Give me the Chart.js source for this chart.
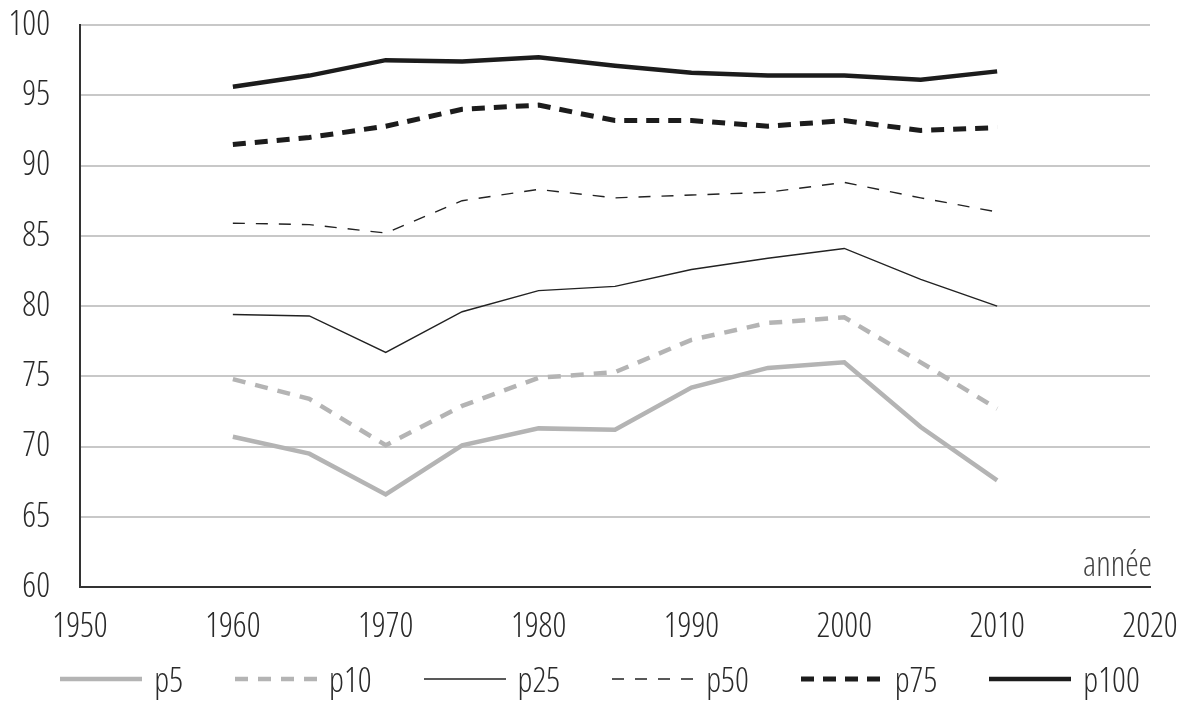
<!DOCTYPE html>
<html>
<head>
<meta charset="utf-8">
<script src="https://cdn.jsdelivr.net/npm/chart.js@4.4.1/dist/chart.umd.min.js"></script>
<style>
    html, body { margin: 0; padding: 0; background: #fff; }
    #wrap { position: relative; width: 1200px; height: 704px; }
    #chartBox { position: absolute; left: 0; top: 0; width: 1200px; height: 668px; }
    #legend {
        position: absolute; left: 0; top: 657px; width: 1200px; height: 44px;
        display: flex; justify-content: center; align-items: center; gap: 52px;
        font-family: "Open Sans", sans-serif; font-weight: 300; font-stretch: condensed;
        font-size: 34px; color: #2a2a2a;
    }
    .item { display: flex; align-items: center; }
    .item svg { margin-right: 12px; }
</style>
</head>
<body>
<div id="wrap">
    <div id="chartBox"><canvas id="percentileChart"></canvas></div>
    <div id="legend"></div>
</div>
<script>
// Years and percentile series
const years = [1960, 1965, 1970, 1975, 1980, 1985, 1990, 1995, 2000, 2005, 2010];
const p5   = [70.7, 69.5, 66.6, 70.1, 71.3, 71.2, 74.2, 75.6, 76.0, 71.4, 67.6];
const p10  = [74.8, 73.4, 70.1, 72.9, 74.9, 75.3, 77.6, 78.8, 79.2, 76.0, 72.7];
const p25  = [79.4, 79.3, 76.7, 79.6, 81.1, 81.4, 82.6, 83.4, 84.1, 81.9, 80.0];
const p50  = [85.9, 85.8, 85.2, 87.5, 88.3, 87.7, 87.9, 88.1, 88.8, 87.7, 86.7];
const p75  = [91.5, 92.0, 92.8, 94.0, 94.3, 93.2, 93.2, 92.8, 93.2, 92.5, 92.7];
const p100 = [95.6, 96.4, 97.5, 97.4, 97.7, 97.1, 96.6, 96.4, 96.4, 96.1, 96.7];

const seriesNames = ["p5", "p10", "p25", "p50", "p75", "p100"];
const seriesValues = [p5, p10, p25, p50, p75, p100];

const FONT = "'Open Sans', sans-serif";
const WEIGHT = "300 condensed"; // light + condensed face
const GRAY = "#b4b4b4";
const DARK = "#1c1c1c";

// line styles per series
const styles = {
    p5:   { color: GRAY, width: 4.5, dash: [] },
    p10:  { color: GRAY, width: 4.5, dash: [13, 10] },
    p25:  { color: "#222", width: 1.4, dash: [] },
    p50:  { color: "#222", width: 1.4, dash: [12, 11] },
    p75:  { color: DARK, width: 5, dash: [13, 9] },
    p100: { color: DARK, width: 4.5, dash: [] }
};

const datasets = seriesNames.map((name, i) => ({
    label: name,
    data: years.map((yr, j) => ({ x: yr, y: seriesValues[i][j] })),
    borderColor: styles[name].color,
    borderWidth: styles[name].width,
    borderDash: styles[name].dash,
    pointRadius: 0,
    tension: 0,
    fill: false
}));

// axis caption "année" above the x axis, right side
const axisCaption = {
    id: "axisCaption",
    afterDraw(chart) {
        const { ctx, chartArea } = chart;
        ctx.save();
        ctx.font = WEIGHT + " 34px " + FONT;
        ctx.fillStyle = "#444";
        ctx.textAlign = "right";
        ctx.textBaseline = "alphabetic";
        ctx.fillText("année", chartArea.right + 2, chartArea.bottom - 11);
        ctx.restore();
    }
};

const ctx = document.getElementById("percentileChart").getContext("2d");
const chart = new Chart(ctx, {
    type: "line",
    data: { datasets: datasets },
    options: {
        responsive: true,
        maintainAspectRatio: false,
        animation: false,
        layout: { padding: { top: 25, right: 50, bottom: 0, left: 0 } },
        plugins: {
            legend: { display: false },
            tooltip: { enabled: false }
        },
        scales: {
            x: {
                type: "linear",
                min: 1950,
                max: 2020,
                afterFit: scale => { scale.paddingLeft = 0; scale.paddingRight = 0; },
                ticks: {
                    stepSize: 10,
                    padding: 20,
                    color: "#2a2a2a",
                    font: { family: FONT, size: 34, weight: WEIGHT },
                    callback: v => String(v)
                },
                grid: { display: false, drawTicks: false },
                border: { display: true, color: "#333", width: 2 }
            },
            y: {
                min: 60,
                max: 100,
                afterFit: scale => {
                    scale.width = 80;
                    scale.paddingTop = 0;
                    scale.paddingBottom = 0;
                },
                ticks: {
                    stepSize: 5,
                    padding: 30,
                    color: "#2a2a2a",
                    font: { family: FONT, size: 34, weight: WEIGHT }
                },
                grid: { color: "#c8c8c8", lineWidth: 2, drawTicks: false },
                border: { display: true, color: "#333", width: 2 }
            }
        }
    },
    plugins: [axisCaption]
});

// HTML legend built from the datasets
const legend = document.getElementById("legend");
chart.data.datasets.forEach(ds => {
    const item = document.createElement("div");
    item.className = "item";
    const svgNS = "http://www.w3.org/2000/svg";
    const svg = document.createElementNS(svgNS, "svg");
    svg.setAttribute("width", "82");
    svg.setAttribute("height", "12");
    const line = document.createElementNS(svgNS, "line");
    line.setAttribute("x1", "0");
    line.setAttribute("x2", "82");
    line.setAttribute("y1", "6");
    line.setAttribute("y2", "6");
    line.setAttribute("stroke", ds.borderColor);
    line.setAttribute("stroke-width", ds.borderWidth);
    if (ds.borderDash.length) line.setAttribute("stroke-dasharray", ds.borderDash.join(" "));
    svg.appendChild(line);
    const text = document.createElement("span");
    text.textContent = ds.label;
    item.appendChild(svg);
    item.appendChild(text);
    legend.appendChild(item);
});
</script>
</body>
</html>
